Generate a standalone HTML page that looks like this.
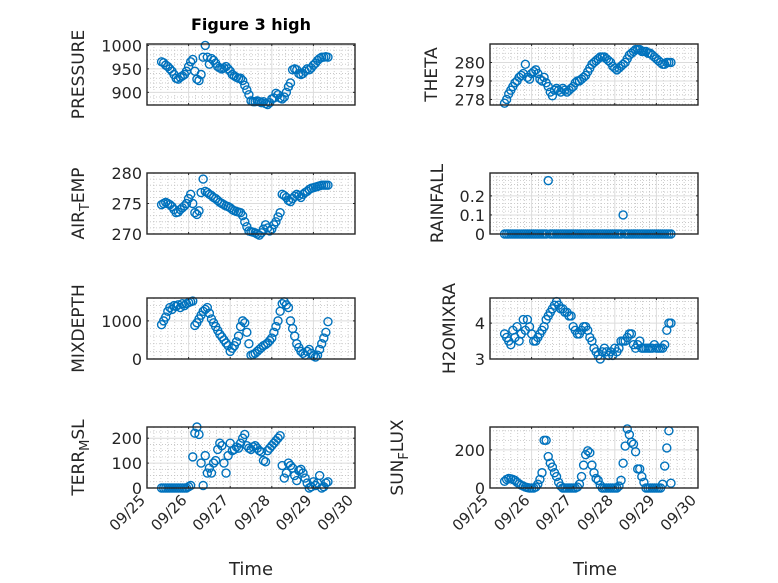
<!DOCTYPE html>
<html><head><meta charset="utf-8"><style>
body{margin:0;background:#fff;}
svg{display:block;font-family:"DejaVu Sans","Liberation Sans",sans-serif;}
</style></head><body>
<svg id="fig" width="778" height="583" viewBox="0 0 778 583" xmlns="http://www.w3.org/2000/svg">
<rect width="778" height="583" fill="#fff"/>
<text x="251" y="30" text-anchor="middle" font-size="16" font-weight="bold" fill="#000">Figure 3 high</text>
<text x="251" y="575" text-anchor="middle" font-size="18" fill="#262626">Time</text>
<text x="595" y="575" text-anchor="middle" font-size="18" fill="#262626">Time</text>
</svg>
<script>
// time samples (day of September)
const tStart = 25.35, tStep = 0.05, nPts = 81;
const xTickLabels = ["09/25","09/26","09/27","09/28","09/29","09/30"];
const xTickValues = [25,26,27,28,29,30];

const pressure = [965,963,958,955,950,945,938,930,928,932,935,938,945,955,965,970,945,928,925,938,975,1000,975,960,972,968,962,955,952,950,952,955,950,945,938,935,932,930,930,925,915,905,895,882,880,880,882,880,878,880,876,874,878,886,888,898,895,888,886,890,900,912,920,948,950,948,940,938,940,945,950,948,952,958,962,968,972,975,975,976,975];
const theta = [277.8,278.0,278.3,278.5,278.7,278.9,279.0,279.2,279.3,279.4,279.9,279.2,279.1,279.4,279.5,279.6,279.4,279.1,279.0,279.2,278.9,278.7,278.4,278.2,278.5,278.6,278.5,278.4,278.6,278.5,278.4,278.5,278.6,278.7,278.9,279.0,279.0,279.1,279.2,279.3,279.5,279.7,279.9,280.0,280.1,280.2,280.3,280.3,280.3,280.2,280.1,280.0,279.8,279.7,279.6,279.7,279.8,279.9,280.0,280.2,280.4,280.5,280.6,280.7,280.7,280.7,280.6,280.6,280.6,280.5,280.5,280.4,280.3,280.2,280.1,280.0,279.9,279.9,280.0,280.0,280.0];
const airTemp = [274.8,275.0,275.2,275.0,274.8,274.5,274.0,273.5,273.6,274.0,274.3,274.6,275.0,275.8,276.5,275.0,273.5,273.2,273.8,276.8,279.0,277.0,276.8,276.5,276.3,276.0,275.8,275.5,275.2,275.0,274.8,274.6,274.5,274.3,274.0,273.8,273.7,273.6,273.5,273.0,272.0,271.2,270.5,270.4,270.3,270.2,270.0,269.8,270.2,270.8,271.5,271.0,270.5,270.8,271.5,272.0,272.8,273.5,276.5,276.3,276.0,275.5,275.3,275.8,276.2,276.5,276.3,276.0,276.5,276.8,277.0,277.3,277.5,277.6,277.7,277.8,277.9,278.0,278.0,278.0,278.0];
const rainfall = [0,0,0,0,0,0,0,0,0,0,0,0,0,0,0,0,0,0,0,0,0,0.28,0,0,0,0,0,0,0,0,0,0,0,0,0,0,0,0,0,0,0,0,0,0,0,0,0,0,0,0,0,0,0,0,0,0,0,0.1,0,0,0,0,0,0,0,0,0,0,0,0,0,0,0,0,0,0,0,0,0,0,0];
const mixDepth = [900,1000,1100,1250,1350,1300,1400,1380,1420,1350,1450,1400,1450,1480,1500,1520,880,950,1050,1150,1250,1300,1350,1200,1050,950,850,750,650,580,500,420,350,200,280,350,450,600,850,1000,950,700,400,100,120,150,200,250,300,350,380,420,480,550,700,850,1000,1250,1450,1500,1420,1350,1000,800,600,400,300,200,150,100,200,250,150,80,50,100,250,400,550,700,980];
const h2oMix = [3.7,3.6,3.5,3.4,3.8,3.6,3.9,3.5,3.7,4.1,3.8,4.1,3.9,3.7,3.5,3.5,3.6,3.7,3.8,3.9,4.1,4.2,4.3,4.4,4.5,4.6,4.5,4.4,4.4,4.3,4.3,4.2,4.2,3.9,3.8,3.7,3.7,3.8,3.9,3.9,3.8,3.6,3.5,3.3,3.2,3.1,3.0,3.2,3.3,3.2,3.1,3.2,3.1,3.3,3.2,3.3,3.5,3.5,3.5,3.6,3.7,3.7,3.4,3.3,3.4,3.5,3.3,3.3,3.3,3.3,3.3,3.3,3.4,3.3,3.3,3.3,3.3,3.4,3.8,4.0,4.0];
const terrMsl = [0,0,0,0,0,0,0,0,0,0,0,0,0,5,10,125,220,245,215,100,10,130,60,80,60,100,110,155,180,170,100,60,130,180,150,155,165,160,180,200,215,170,160,155,165,170,160,150,145,110,105,150,160,170,180,190,200,210,90,40,60,100,90,80,50,30,70,75,60,40,20,0,5,25,10,20,50,0,5,20,25];
const sunFlux = [35,45,50,48,45,40,30,22,15,10,5,2,0,0,0,5,20,45,80,250,250,165,130,110,80,60,30,10,0,0,0,0,0,0,0,5,20,60,120,175,195,185,120,80,50,40,15,0,0,0,0,0,0,0,0,10,40,130,220,310,280,240,230,190,100,100,60,30,0,0,0,0,0,0,0,0,20,115,210,300,25];

const panels = [
 {name:"pressure", data:pressure, x:147, y:44, ymin:873, ymax:1003, ticks:[900,950,1000], minor:10, label:["PRESSURE"], lx:84},
 {name:"theta", data:theta, x:490, y:44, ymin:277.7, ymax:281.0, ticks:[278,279,280], minor:0.25, label:["THETA"], lx:437},
 {name:"air-temp", data:airTemp, x:147, y:173, ymin:270, ymax:280, ticks:[270,275,280], minor:1, label:["AIR","T","EMP"], lx:84},
 {name:"rainfall", data:rainfall, x:490, y:173, ymin:0, ymax:0.32, ticks:[0,0.1,0.2], minor:0.02, label:["RAINFALL"], lx:443},
 {name:"mixdepth", data:mixDepth, x:147, y:298, ymin:0, ymax:1600, ticks:[0,1000], minor:200, label:["MIXDEPTH"], lx:84},
 {name:"h2omixra", data:h2oMix, x:490, y:298, ymin:3, ymax:4.7, ticks:[3,4], minor:0.2, label:["H2OMIXRA"], lx:455},
 {name:"terr-msl", data:terrMsl, x:147, y:427, ymin:0, ymax:245, ticks:[0,100,200], minor:25, label:["TERR","M","SL"], lx:84, xt:true},
 {name:"sun-flux", data:sunFlux, x:490, y:427, ymin:0, ymax:320, ticks:[0,200], minor:50, label:["SUN","F","LUX"], lx:403, xt:true}
];
const W = 208, H = 61, X0 = 25, X1 = 30;
const NS = "http://www.w3.org/2000/svg";
const svg = document.getElementById("fig");
function mk(tag, attrs, parent){const e=document.createElementNS(NS,tag);for(const k in attrs)e.setAttribute(k,attrs[k]);(parent||svg).appendChild(e);return e;}

panels.forEach(p=>{
  const g = mk("g",{});
  
  
  const xs = v => p.x + (v - X0) / (X1 - X0) * W;
  const ys = v => p.y + H - (v - p.ymin) / (p.ymax - p.ymin) * H;
  mk("rect",{x:p.x,y:p.y,width:W,height:H,fill:"#fff"},g);
  for(let d=X0; d<X1-1e-6; d+=1/6){
    const k=Math.round((d-X0)*6); if(k%6===0) continue;
    mk("line",{x1:xs(d),x2:xs(d),y1:p.y,y2:p.y+H,stroke:"#c0c0c0","stroke-width":0.8,"stroke-dasharray":"1,2"},g);
  }
  const start = Math.ceil(p.ymin/p.minor)*p.minor;
  for(let v=start; v<p.ymax; v+=p.minor){
    if(p.ticks.some(t=>Math.abs(t-v)<p.minor/100)) continue;
    mk("line",{x1:p.x,x2:p.x+W,y1:ys(v),y2:ys(v),stroke:"#c0c0c0","stroke-width":0.8,"stroke-dasharray":"1,2"},g);
  }
  xTickValues.forEach(v=>{ mk("line",{x1:xs(v),x2:xs(v),y1:p.y,y2:p.y+H,stroke:"#dcdcdc","stroke-width":1},g); });
  p.ticks.forEach(v=>{ mk("line",{x1:p.x,x2:p.x+W,y1:ys(v),y2:ys(v),stroke:"#dcdcdc","stroke-width":1},g); });
  const dg = mk("g",{fill:"none",stroke:"#0072BD","stroke-width":1.4},g);
  
  
  p.data.forEach((v,i)=>{
    const t = tStart + tStep*i;
    const c = mk("circle",{cx:xs(t),cy:ys(v),r:4},dg);
    
    
  });
  mk("rect",{x:p.x,y:p.y,width:W,height:H,fill:"none",stroke:"#262626","stroke-width":1.4},g);
  xTickValues.forEach(v=>{
    mk("line",{x1:xs(v),x2:xs(v),y1:p.y+H,y2:p.y+H-2,stroke:"#262626","stroke-width":1},g);
    mk("line",{x1:xs(v),x2:xs(v),y1:p.y,y2:p.y+2,stroke:"#262626","stroke-width":1},g);
  });
  p.ticks.forEach(v=>{
    mk("line",{x1:p.x,x2:p.x+2,y1:ys(v),y2:ys(v),stroke:"#262626","stroke-width":1},g);
    mk("line",{x1:p.x+W,x2:p.x+W-2,y1:ys(v),y2:ys(v),stroke:"#262626","stroke-width":1},g);
    const tl = mk("text",{x:p.x-5,y:ys(v)+6,"text-anchor":"end","font-size":16,fill:"#262626"},g);
    tl.textContent = String(v);
    
    
  });
  const yl = mk("text",{transform:`translate(${p.lx},${p.y+H/2}) rotate(-90)`,"text-anchor":"middle","font-size":17,fill:"#262626"},g);
  
  
  const t1 = mk("tspan",{},yl); t1.textContent = p.label[0];
  if(p.label.length>1){
    const t2 = mk("tspan",{dy:5,"font-size":13},yl); t2.textContent = p.label[1];
    const t3 = mk("tspan",{dy:-5},yl); t3.textContent = p.label[2];
  }
  if(p.xt){
    xTickValues.forEach((v,i)=>{
      const xl = mk("text",{transform:`translate(${xs(v)-4},${p.y+H+10}) rotate(-45)`,"text-anchor":"end","font-size":15,fill:"#262626","dominant-baseline":"middle"},g);
      xl.textContent = xTickLabels[i];
      
      
    });
  }
});
</script>
</body></html>
